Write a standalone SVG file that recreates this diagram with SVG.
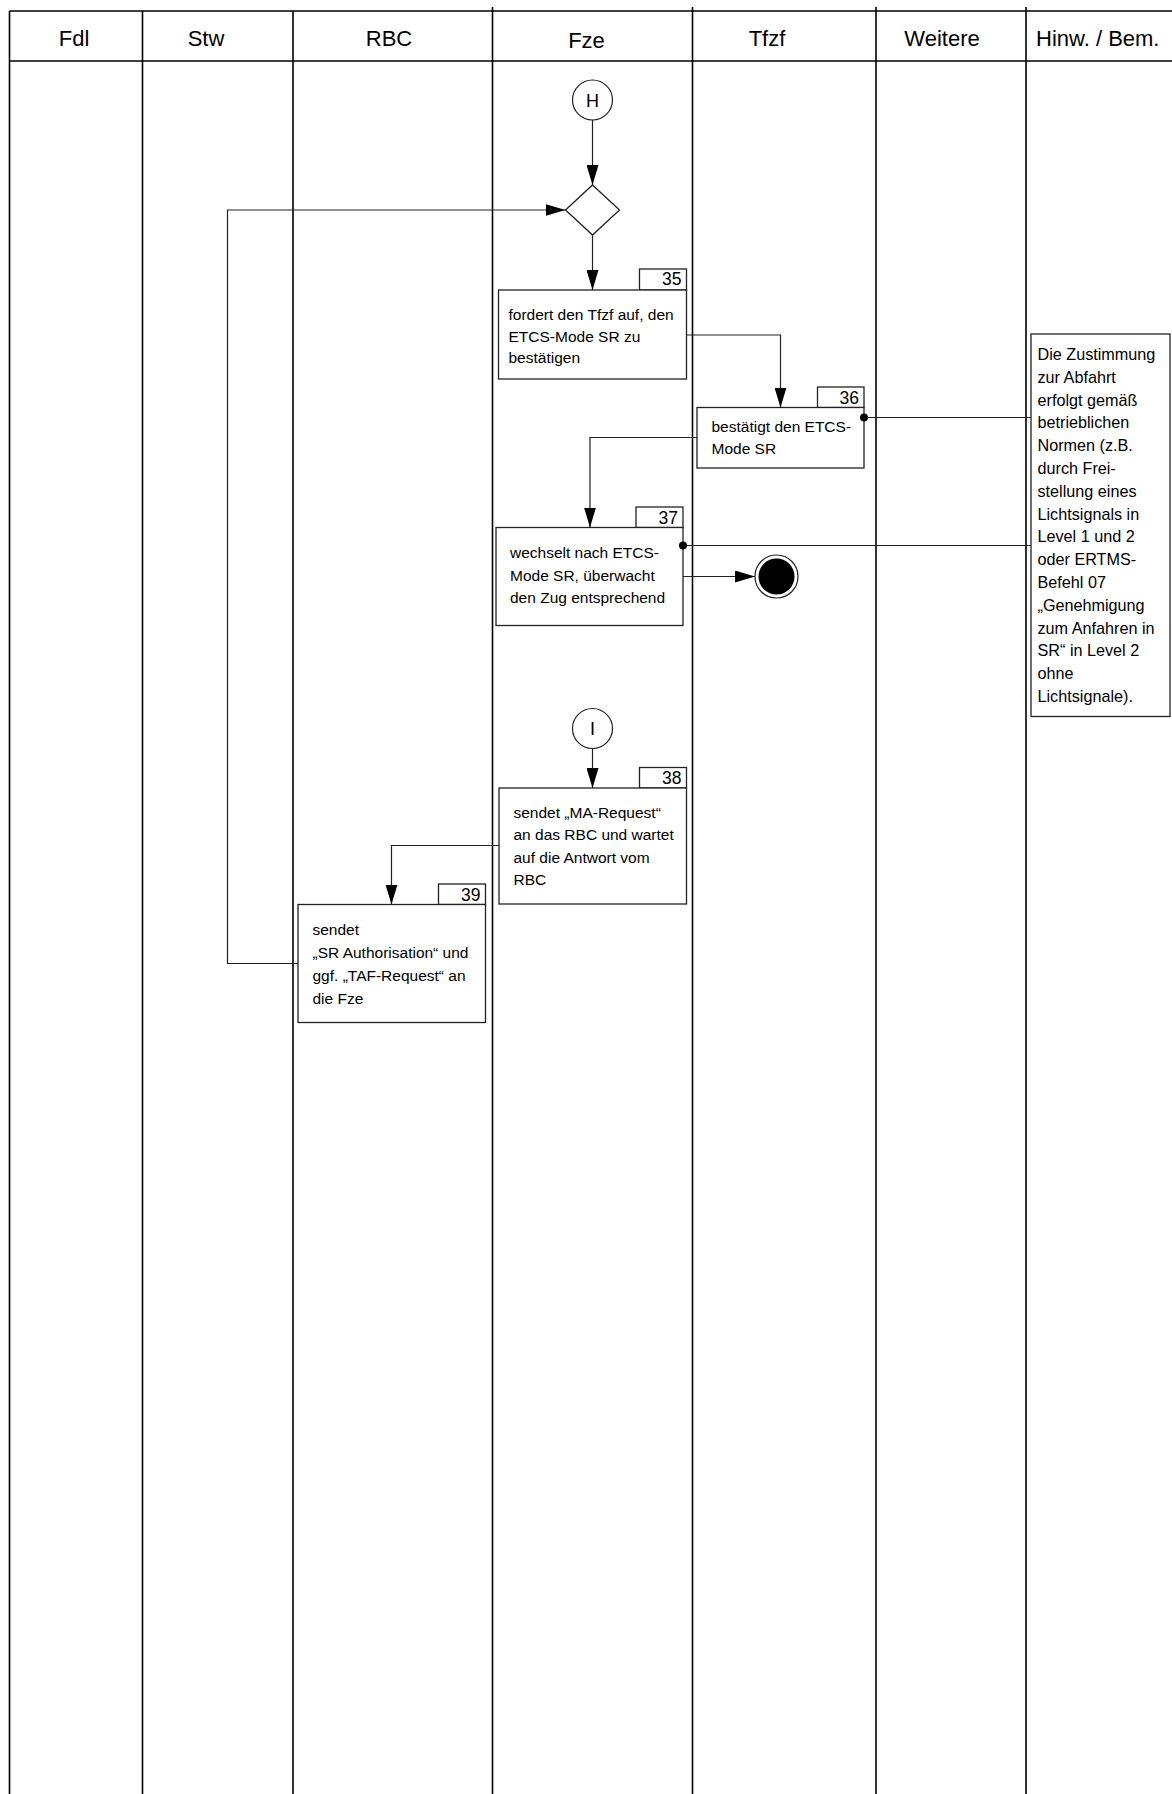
<svg xmlns="http://www.w3.org/2000/svg" width="1172" height="1794" viewBox="0 0 1172 1794">
<style>
.lane{stroke:#000;stroke-width:1.6;fill:none}
.hd{font-family:"Liberation Sans",Arial,sans-serif;font-size:22px;fill:#000}
.box{fill:#fff;stroke:#222;stroke-width:1.3}
.num{font-family:"Liberation Sans",Arial,sans-serif;font-size:17.5px;fill:#000;text-anchor:end}
.tx{font-family:"Liberation Sans",Arial,sans-serif;font-size:15.5px;fill:#000}
.lbl{font-family:"Liberation Sans",Arial,sans-serif;font-size:18px;fill:#000;text-anchor:middle}
.nt{font-family:"Liberation Sans",Arial,sans-serif;font-size:16.2px;fill:#000}
.con{stroke:#222;stroke-width:1.2;fill:none}
.circ{fill:#fff;stroke:#222;stroke-width:1.2}
</style>
<defs>
<marker id="arr" markerUnits="userSpaceOnUse" markerWidth="20" markerHeight="12" refX="20" refY="6" orient="auto">
<path d="M0,0 L20,6 L0,12 z" fill="#000"/>
</marker>
</defs>
<rect width="1172" height="1794" fill="#fff"/>
<g id="lanes">
<line class="lane" x1="9.5" y1="11" x2="1172" y2="11"/>
<line class="lane" x1="9.5" y1="61" x2="1172" y2="61"/>
<line class="lane" x1="9.5" y1="11" x2="9.5" y2="1794"/>
<line class="lane" x1="142.5" y1="11" x2="142.5" y2="1794"/>
<line class="lane" x1="293" y1="11" x2="293" y2="1794"/>
<line class="lane" x1="492.5" y1="7" x2="492.5" y2="1794"/>
<line class="lane" x1="692.5" y1="7" x2="692.5" y2="1794"/>
<line class="lane" x1="876" y1="7" x2="876" y2="1794"/>
<line class="lane" x1="1026" y1="7" x2="1026" y2="1794"/>
<text class="hd" x="74" y="45.5" text-anchor="middle">Fdl</text>
<text class="hd" x="206" y="45.5" text-anchor="middle">Stw</text>
<text class="hd" x="389" y="45.5" text-anchor="middle">RBC</text>
<text class="hd" x="586.5" y="47.5" text-anchor="middle">Fze</text>
<text class="hd" x="767" y="45.5" text-anchor="middle">Tfzf</text>
<text class="hd" x="942" y="45.5" text-anchor="middle">Weitere</text>
<text class="hd" x="1036" y="45.5">Hinw. / Bem.</text>
</g>
<g id="start-H">
<circle class="circ" cx="592.5" cy="100" r="20"/>
<text class="lbl" x="592.5" y="106.5">H</text>
</g>
<g id="decision">
<polygon class="box" points="592.5,185 619.5,210 592.5,235 565.5,210"/>
</g>
<g id="step35">
<rect class="box" x="639.5" y="269" width="47" height="21"/>
<text class="num" x="681.5" y="285">35</text>
<rect class="box" x="498.5" y="290" width="188" height="89"/>
<text class="tx" x="508.5" y="320">fordert den Tfzf auf, den</text>
<text class="tx" x="508.5" y="341.5">ETCS-Mode SR zu</text>
<text class="tx" x="508.5" y="363">bestätigen</text>
</g>
<g id="step36">
<rect class="box" x="817.5" y="387" width="46.5" height="20.5"/>
<text class="num" x="859" y="403.5">36</text>
<rect class="box" x="697" y="407.5" width="167" height="60.5"/>
<text class="tx" x="711.5" y="431.5">bestätigt den ETCS-</text>
<text class="tx" x="711.5" y="454">Mode SR</text>
</g>
<g id="step37">
<rect class="box" x="636" y="507" width="47" height="20.5"/>
<text class="num" x="678" y="523.5">37</text>
<rect class="box" x="496" y="527.5" width="187" height="98"/>
<text class="tx" x="510" y="557.5">wechselt nach ETCS-</text>
<text class="tx" x="510" y="580.5">Mode SR, überwacht</text>
<text class="tx" x="510" y="603">den Zug entsprechend</text>
</g>
<g id="end">
<circle class="circ" cx="776.5" cy="576.5" r="21.5"/>
<circle cx="776.5" cy="576.5" r="18" fill="#000"/>
</g>
<g id="start-I">
<circle class="circ" cx="592.5" cy="728.5" r="20"/>
<text class="lbl" x="592.5" y="735">I</text>
</g>
<g id="step38">
<rect class="box" x="639.5" y="767.5" width="47" height="20.5"/>
<text class="num" x="681.5" y="784">38</text>
<rect class="box" x="499" y="788" width="187.5" height="116"/>
<text class="tx" x="513.5" y="817.5">sendet „MA-Request“</text>
<text class="tx" x="513.5" y="840">an das RBC und wartet</text>
<text class="tx" x="513.5" y="862.5">auf die Antwort vom</text>
<text class="tx" x="513.5" y="885">RBC</text>
</g>
<g id="step39">
<rect class="box" x="438.5" y="884" width="47" height="20.5"/>
<text class="num" x="480.5" y="900.5">39</text>
<rect class="box" x="298" y="904.5" width="187.5" height="118"/>
<text class="tx" x="312.5" y="934.5">sendet</text>
<text class="tx" x="312.5" y="957.5">„SR Authorisation“ und</text>
<text class="tx" x="312.5" y="980.5">ggf. „TAF-Request“ an</text>
<text class="tx" x="312.5" y="1003.5">die Fze</text>
</g>
<g id="note">
<rect class="box" x="1031" y="334" width="139" height="382.5"/>
<text class="nt" x="1037.5" y="360">Die Zustimmung</text>
<text class="nt" x="1037.5" y="382.8">zur Abfahrt</text>
<text class="nt" x="1037.5" y="405.6">erfolgt gemäß</text>
<text class="nt" x="1037.5" y="428.4">betrieblichen</text>
<text class="nt" x="1037.5" y="451.2">Normen (z.B.</text>
<text class="nt" x="1037.5" y="474">durch Frei-</text>
<text class="nt" x="1037.5" y="496.8">stellung eines</text>
<text class="nt" x="1037.5" y="519.6">Lichtsignals in</text>
<text class="nt" x="1037.5" y="542.4">Level 1 und 2</text>
<text class="nt" x="1037.5" y="565.2">oder ERTMS-</text>
<text class="nt" x="1037.5" y="588">Befehl 07</text>
<text class="nt" x="1037.5" y="610.8">„Genehmigung</text>
<text class="nt" x="1037.5" y="633.6">zum Anfahren in</text>
<text class="nt" x="1037.5" y="656.4">SR“ in Level 2</text>
<text class="nt" x="1037.5" y="679.2">ohne</text>
<text class="nt" x="1037.5" y="702">Lichtsignale).</text>
</g>
<g id="connectors">
<line class="con" x1="592.5" y1="120" x2="592.5" y2="185" marker-end="url(#arr)"/>
<line class="con" x1="592.5" y1="235" x2="592.5" y2="290" marker-end="url(#arr)"/>
<polyline class="con" points="686.5,335 780.5,335 780.5,407.5" marker-end="url(#arr)"/>
<polyline class="con" points="697,437.5 590,437.5 590,527.5" marker-end="url(#arr)"/>
<line class="con" x1="864" y1="417.5" x2="1031" y2="417.5"/>
<circle cx="864" cy="417.5" r="4" fill="#000"/>
<line class="con" x1="683" y1="545.5" x2="1031" y2="545.5"/>
<circle cx="683" cy="545.5" r="4" fill="#000"/>
<line class="con" x1="683" y1="576.5" x2="755" y2="576.5" marker-end="url(#arr)"/>
<line class="con" x1="592.5" y1="748.5" x2="592.5" y2="788" marker-end="url(#arr)"/>
<polyline class="con" points="499,845.5 391.5,845.5 391.5,904.5" marker-end="url(#arr)"/>
<polyline class="con" points="298,963.5 227.5,963.5 227.5,210 565.5,210" marker-end="url(#arr)"/>
</g>
</svg>
